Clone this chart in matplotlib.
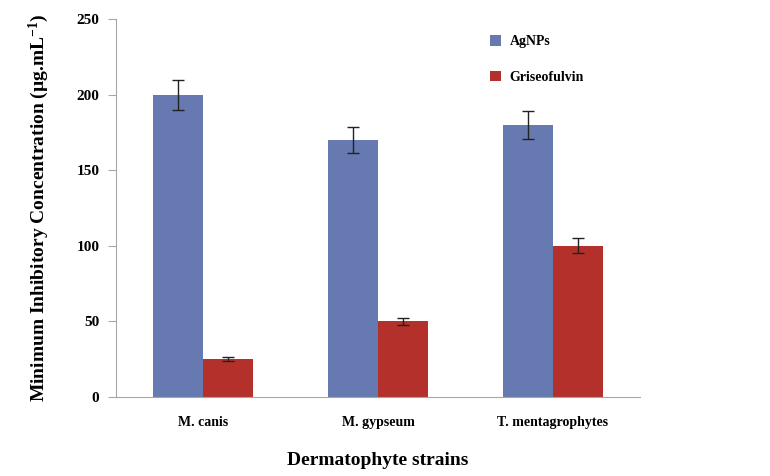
import numpy as np
import matplotlib
matplotlib.use("Agg")
import matplotlib.pyplot as plt

plt.rcParams['font.family'] = ['Liberation Serif', 'DejaVu Serif']
plt.rcParams['font.weight'] = 'bold'
plt.rcParams['mathtext.fontset'] = 'custom'
plt.rcParams['mathtext.rm'] = 'Liberation Serif:bold'
plt.rcParams['mathtext.it'] = 'Liberation Serif:bold'
plt.rcParams['mathtext.bf'] = 'Liberation Serif:bold'

# data
strains = ["M. canis", "M. gypseum", "T. mentagrophytes"]
agnps = [200, 170, 180]
agnps_err = [10, 8.5, 9.3]
griseo = [25, 50, 100]
griseo_err = [1.5, 2.5, 5]

blue = '#6679b0'
red = '#b3302b'
gray = '#a6a6a6'

fig = plt.figure(figsize=(7.7, 4.76), dpi=100)
ax = fig.add_axes([0.1506, 0.166, 0.6805, 0.794])

x = np.arange(len(strains)) + 0.5
w = 0.286
ax.bar(x - w/2, agnps, w, color=blue, label='AgNPs',
       yerr=agnps_err, error_kw=dict(ecolor='#222222', elinewidth=1, capsize=4, capthick=1))
ax.bar(x + w/2, griseo, w, color=red, label='Griseofulvin',
       yerr=griseo_err, error_kw=dict(ecolor='#222222', elinewidth=1, capsize=4, capthick=1))

ax.set_xlim(0, 3)
ax.set_ylim(0, 250)
ax.set_yticks([0, 50, 100, 150, 200, 250])
ax.set_xticks(x)
ax.set_xticklabels(strains, fontsize=10, fontweight='bold')
ax.tick_params(axis='x', length=0, pad=14)
ax.tick_params(axis='y', length=6, color=gray, labelsize=11, pad=6)
for t in ax.get_yticklabels():
    t.set_fontweight('bold')

ax.spines['top'].set_visible(False)
ax.spines['right'].set_visible(False)
ax.spines['left'].set_color(gray)
ax.spines['bottom'].set_color(gray)

ax.set_ylabel(r'Minimum Inhibitory Concentration (µg.mL$^{\mathregular{-1}}$)', fontsize=14, fontweight='bold', labelpad=18)
ax.set_xlabel('Dermatophyte strains', fontsize=14, fontweight='bold', labelpad=16)

ax.legend(loc='upper left', bbox_to_anchor=(0.69, 0.99), frameon=False,
          handlelength=0.8, handleheight=0.8, labelspacing=1.6, handletextpad=0.6,
          prop={'weight': 'bold', 'size': 10})

plt.savefig('out.png', dpi=100)
